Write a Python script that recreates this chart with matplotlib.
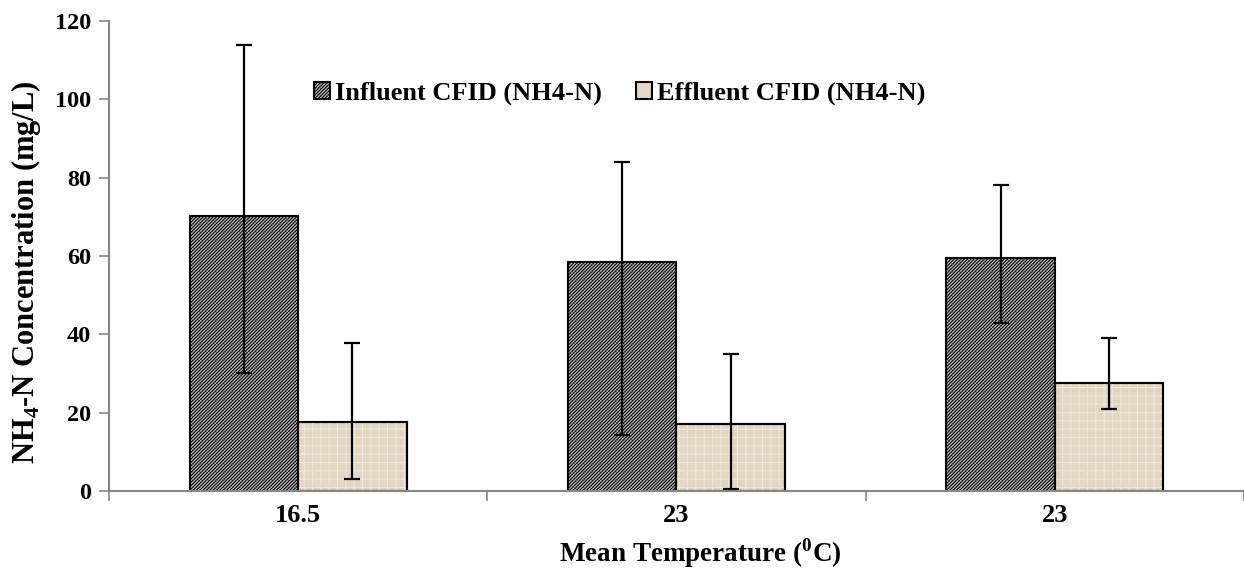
import matplotlib
matplotlib.use("Agg")
import matplotlib.pyplot as plt
import numpy as np

# data
temps = ["16.5", "23", "23"]
influent = [70.2, 58.4, 59.4]
influent_lo = [30.2, 14.3, 43.0]
influent_hi = [114.0, 84.0, 78.2]
effluent = [17.7, 17.1, 27.7]
effluent_lo = [3.1, 0.6, 20.9]
effluent_hi = [37.9, 35.1, 39.1]

plt.rcParams["font.family"] = ["Liberation Serif", "DejaVu Serif"]
plt.rcParams["font.weight"] = "bold"
plt.rcParams["mathtext.fontset"] = "custom"
plt.rcParams["mathtext.rm"] = "Liberation Serif:bold"
plt.rcParams["mathtext.bf"] = "Liberation Serif:bold"
plt.rcParams["hatch.linewidth"] = 0.8

fig = plt.figure(figsize=(12.44, 5.69), dpi=100)
ax = fig.add_axes([0.0876, 0.137, 0.9124, 0.826])

x = np.arange(len(temps))
w = 0.287
inf = np.array(influent)
eff = np.array(effluent)
inf_err = [inf - np.array(influent_lo), np.array(influent_hi) - inf]
eff_err = [eff - np.array(effluent_lo), np.array(effluent_hi) - eff]

err_kw = dict(ecolor="black", elinewidth=1.6, capsize=5.5, capthick=1.6)
ax.bar(x - w / 2, inf, w, color="#bdbdbd", edgecolor="black", hatch="//////////",
       linewidth=1.5, label="Influent CFID (NH4-N)", yerr=inf_err, error_kw=err_kw)
ax.bar(x + w / 2, eff, w, color="#e0d6c1", edgecolor="black", linewidth=1.5,
       label="Effluent CFID (NH4-N)", yerr=eff_err, error_kw=err_kw)
# faint texture on the effluent bars
ax.bar(x + w / 2, eff, w, color="none", edgecolor="#eee8dc", hatch="++", linewidth=0)
ax.bar(x + w / 2, eff, w, color="none", edgecolor="black", linewidth=1.5)

ax.set_xlim(-0.5, 2.5)
ax.set_ylim(0, 120)
ax.set_yticks(np.arange(0, 121, 20))
ax.set_xticks([-0.5, 0.5, 1.5, 2.5])
ax.set_xticklabels([])
ax.set_xticks(x, minor=True)
ax.set_xticklabels(temps, minor=True)
ax.tick_params(axis="x", which="minor", length=0, pad=9, labelsize=19)
ax.tick_params(axis="x", which="major", length=7, width=1.2, color="#868686")
ax.tick_params(axis="y", length=7, width=1.2, color="#868686", labelsize=17.5, pad=6)

for s in ["top", "right"]:
    ax.spines[s].set_visible(False)
for s in ["left", "bottom"]:
    ax.spines[s].set_color("#868686")
    ax.spines[s].set_linewidth(1.5)

ax.set_ylabel(r"NH$_\mathbf{4}$-N Concentration (mg/L)", fontsize=22, fontweight="bold")
ax.yaxis.set_label_coords(-0.058, 0.465)
ax.set_xlabel(r"Mean Temperature ($^\mathbf{0}$C)", fontsize=19.5, fontweight="bold")
ax.xaxis.set_label_coords(0.521, -0.095)

leg = ax.legend(loc="center", bbox_to_anchor=(0.45, 0.846), ncol=2, frameon=False,
                fontsize=19, handlelength=0.6, handleheight=0.6, handletextpad=0.2,
                columnspacing=1.3)

fig.savefig("out.png", dpi=100)
